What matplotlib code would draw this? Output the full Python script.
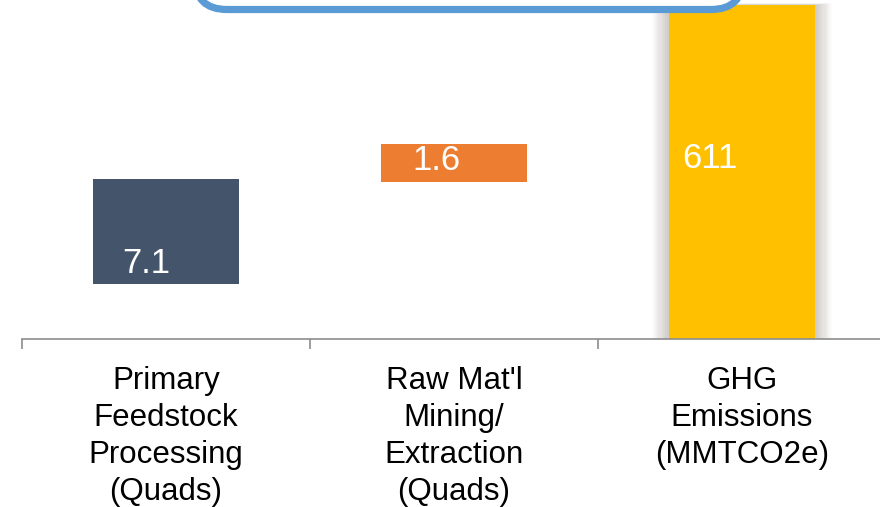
import matplotlib
matplotlib.use("Agg")
import matplotlib.pyplot as plt
from matplotlib.patches import FancyBboxPatch, Rectangle
from matplotlib.transforms import IdentityTransform

plt.rcParams["font.family"] = ["Liberation Sans", "DejaVu Sans"]

# Categories and their stated values
categories = [
    "Primary\nFeedstock\nProcessing\n(Quads)",
    "Raw Mat'l\nMining/\nExtraction\n(Quads)",
    "GHG\nEmissions\n(MMTCO2e)",
]
values = [7.1, 1.6, 611]
value_text = ["7.1", "1.6", "611"]

# Floating bar spans on the chart's relative scale (0-100)
bar_bottoms = [16.2, 46.3, 0.0]
bar_tops = [47.1, 57.5, 98.5]

colors = ["#44546A", "#ED7D31", "#FFC000"]

W, H, DPI = 8.8, 5.07, 100
fig = plt.figure(figsize=(W, H), dpi=DPI)
fig.patch.set_facecolor("white")

# axes: left edge at 22 px, three 288 px wide categories, baseline 338.5 px from top
ax_left = 22 / 880
ax_w = 864 / 880
ax_bottom = (507 - 338.5) / 507
ax_h = 338.5 / 507
ax = fig.add_axes([ax_left, ax_bottom, ax_w, ax_h])
ax.set_xlim(-0.5, 2.5)
ax.set_ylim(0, 100)

x = list(range(len(categories)))
bar_width = 0.51
heights = [t - b for t, b in zip(bar_tops, bar_bottoms)]

# soft shadow behind the emissions bar
px = 1 / 288
for k in range(1, 15):
    ax.add_patch(Rectangle((x[2] - bar_width / 2 - k * 1.15 * px, bar_bottoms[2]),
                           bar_width + 2 * k * 1.15 * px, heights[2] + k * 0.04,
                           facecolor="#85786b", edgecolor="none", alpha=0.028,
                           zorder=1))

ax.bar(x, heights, bottom=bar_bottoms, width=bar_width, color=colors,
       edgecolor="none", zorder=2)

# value labels inside the bars
label_dx = [-0.152, -0.145, -0.208]
label_y = [19.35, 49.8, 50.4]
for xi, dx, ly, txt in zip(x, label_dx, label_y, value_text):
    ax.text(xi + dx, ly, txt, color="white", fontsize=25, ha="left",
            va="baseline", zorder=3)

# axis styling
for side in ["top", "left", "right"]:
    ax.spines[side].set_visible(False)
ax.spines["bottom"].set_color("#8c8c8c")
ax.spines["bottom"].set_linewidth(1.2)
ax.set_yticks([])
ax.set_xticks([-0.5, 0.5, 1.5, 2.5])
ax.set_xticklabels([])
ax.tick_params(axis="x", which="major", direction="out", length=7.2,
               width=1.2, color="#8c8c8c")
ax.set_xticks(x, minor=True)
ax.set_xticklabels(categories, minor=True, fontsize=22.5, linespacing=1.31,
                   va="top", color="black")
ax.tick_params(axis="x", which="minor", length=0, pad=19.5)
ax.set_facecolor("none")

# rounded call-out frame running off the top edge
frame = FancyBboxPatch((195, 497.5), 548, 120,
                       boxstyle="round,pad=0,rounding_size=32",
                       transform=IdentityTransform(), facecolor="white",
                       edgecolor="#5B9BD5", linewidth=5.2, zorder=6,
                       clip_on=False)
fig.patches.append(frame)
frame.set_figure(fig)

fig.savefig("out.png", dpi=DPI, facecolor="white")
